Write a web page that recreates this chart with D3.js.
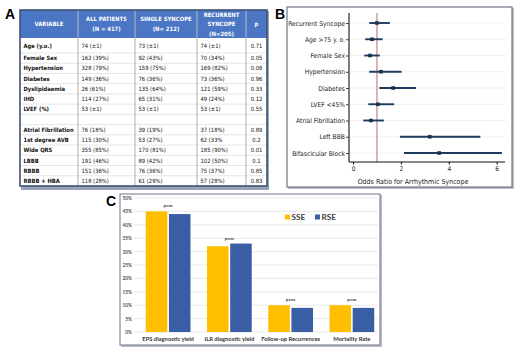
<!DOCTYPE html>
<html lang="en">
  <head>
    <meta charset="utf-8">
    <title>Syncope figure</title>
    <script src="https://d3js.org/d3.v7.min.js"></script>
    <style>
      body { margin: 0; background: #fff; }
      svg { display: block; }
      .narrow { font-family: "Liberation Sans Narrow", "DejaVu Sans Condensed", Arial, sans-serif; }
      .lato { font-family: Lato, "Open Sans", sans-serif; }
      .plabel { font-weight: bold; font-size: 14px; font-family: "Liberation Sans", Arial, sans-serif; }
    </style>
  </head>
  <body>
    <svg id="fig" width="520" height="352"></svg>
    <script>
      // ---- panel A: baseline table ----
      const headers = [["VARIABLE"], ["ALL PATIENTS", "(N = 417)"], ["SINGLE SYNCOPE", "(N= 212)"],
                       ["RECURRENT", "SYNCOPE", "(N=205)"], ["p"]];
      const variables = ["Age (y.o.)", "Female Sex", "Hypertension", "Diabetes", "Dyslipidaemia", "IHD", "LVEF (%)", "",
                         "Atrial Fibrillation", "1st degree AVB", "Wide QRS", "LBBB", "RBBB", "RBBB + HBA"];
      const allPatients = ["74 (\u00b11)", "162 (39%)", "328 (79%)", "149 (36%)", "26 (61%)", "114 (27%)", "53 (\u00b11)", "",
                           "76 (18%)", "115 (30%)", "355 (85%)", "191 (46%)", "151 (36%)", "118 (28%)"];
      const singleSyncope = ["73 (\u00b11)", "92 (43%)", "159 (75%)", "76 (36%)", "135 (64%)", "65 (31%)", "53 (\u00b11)", "",
                             "39 (19%)", "53 (27%)", "170 (81%)", "89 (42%)", "76 (36%)", "61 (29%)"];
      const recurrentSyncope = ["74 (\u00b11)", "70 (34%)", "169 (82%)", "73 (36%)", "121 (59%)", "49 (24%)", "53 (\u00b11)", "",
                                "37 (18%)", "62 (33%", "185 (90%)", "102 (50%)", "75 (37%)", "57 (28%)"];
      const pValues = ["0.71", "0.05", "0.06", "0.96", "0.33", "0.12", "0.55", "",
                       "0.89", "0.2", "0.01", "0.1", "0.85", "0.83"];

      // ---- panel B: forest plot ----
      const factors = ["Recurrent Syncope", "Age >75 y. o.", "Female Sex", "Hypertension", "Diabetes",
                       "LVEF <45%", "Atrial Fibrillation", "Left BBB", "Bifascicular Block"];
      const oddsRatio = [1.0, 0.79, 0.71, 1.17, 1.68, 1.04, 0.75, 3.21, 3.6];
      const ciLow = [0.68, 0.51, 0.47, 0.68, 1.1, 0.64, 0.43, 1.96, 2.13];
      const ciHigh = [1.54, 1.24, 1.12, 2.03, 2.63, 1.72, 1.29, 5.32, 6.22];
      const orTicks = [0, 2, 4, 6];

      // ---- panel C: grouped bars ----
      const outcomes = ["EPS diagnostic yield", "ILR diagnostic yield", "Follow-up Recurrences", "Mortality Rate"];
      const groups = ["SSE", "RSE"];
      const sseValues = [45, 32, 10, 10];
      const rseValues = [44, 33, 9, 9];
      const pText = ["p=ns", "p=ns", "p=ns", "p=ns"];
      const pctTicks = [0, 5, 10, 15, 20, 25, 30, 35, 40, 45, 50];

      const svg = d3.select('#fig');

      // ================= A =================
      svg.append('text').attr('class', 'plabel').attr('x', 5).attr('y', 19).text('A');
      const A = svg.append('g');
      const colX = d3.scaleOrdinal().domain(d3.range(6)).range([20, 78, 135, 197, 246, 267]);
      const rowY = d3.scaleLinear().domain([0, 1, variables.length]).range([38, 53, 186]);
      const tTop = 10, tBottom = rowY(variables.length);

      A.append('rect').attr('x', 21).attr('y', tTop + 1).attr('width', 248).attr('height', tBottom - tTop + 3)
        .attr('fill', '#9aa3b5');
      A.append('rect').attr('x', colX(0)).attr('y', tTop).attr('width', colX(5) - colX(0)).attr('height', tBottom - tTop)
        .attr('fill', '#fff');
      A.append('rect').attr('x', colX(0)).attr('y', tTop).attr('width', colX(5) - colX(0)).attr('height', 28)
        .attr('fill', '#4a76c4');

      // row separators
      A.selectAll('line.row').data(d3.range(1, variables.length))
        .join('line').attr('class', 'row')
        .attr('x1', colX(0)).attr('x2', colX(5))
        .attr('y1', d => rowY(d)).attr('y2', d => rowY(d))
        .attr('stroke', '#d4d4d4').attr('stroke-width', 0.6);
      // column separators
      A.selectAll('line.col').data(d3.range(1, 5))
        .join('line').attr('class', 'col')
        .attr('x1', d => colX(d)).attr('x2', d => colX(d))
        .attr('y1', tTop).attr('y2', tBottom)
        .attr('stroke', '#8c8c8c').attr('stroke-width', 0.7);
      A.selectAll('line.hcol').data(d3.range(1, 5))
        .join('line').attr('class', 'hcol')
        .attr('x1', d => colX(d)).attr('x2', d => colX(d))
        .attr('y1', tTop).attr('y2', 38)
        .attr('stroke', '#a9c0e6').attr('stroke-width', 0.8);
      A.append('rect').attr('x', colX(0)).attr('y', tTop).attr('width', colX(5) - colX(0)).attr('height', tBottom - tTop)
        .attr('fill', 'none').attr('stroke', '#3f5376').attr('stroke-width', 1.6);

      // header text
      headers.forEach(function(lines, c) {
        const cx = (colX(c) + colX(c + 1)) / 2;
        const y0 = 24 - (lines.length - 1) * 4.7 + 2.1;
        A.append('text').attr('class', 'narrow')
          .attr('text-anchor', 'middle').attr('font-size', 5.9).attr('font-weight', 'bold').attr('fill', '#fff')
          .selectAll('tspan').data(lines).join('tspan')
          .attr('x', cx).attr('y', (d, i) => y0 + i * 9.4)
          .text(d => d);
      });

      const columns = [variables, allPatients, singleSyncope, recurrentSyncope, pValues];
      columns.forEach(function(col, c) {
        A.selectAll('text.c' + c).data(col).join('text')
          .attr('class', 'narrow c' + c)
          .attr('x', c === 4 ? (colX(4) + colX(5)) / 2 : colX(c) + 3.5)
          .attr('text-anchor', c === 4 ? 'middle' : 'start')
          .attr('y', (d, i) => (rowY(i) + rowY(i + 1)) / 2 + 2.1)
          .attr('font-size', 5.8)
          .attr('font-weight', c === 0 ? 'bold' : 'normal')
          .attr('fill', '#111')
          .text(d => d);
      });

      // ================= B =================
      svg.append('text').attr('class', 'plabel').attr('x', 275).attr('y', 19).text('B');
      const B = svg.append('g');
      B.append('rect').attr('x', 288).attr('y', 8).attr('width', 226).attr('height', 181).attr('fill', '#b9bcc6');
      B.append('rect').attr('x', 287).attr('y', 7).attr('width', 225).attr('height', 180)
        .attr('fill', '#fff').attr('stroke', '#6f7688').attr('stroke-width', 1.2);

      const xOR = d3.scaleLinear().domain([0, 6.35]).range([353, 505]);
      const yF = d3.scalePoint().domain(factors).range([23, 153]);

      B.selectAll('line.grid').data(factors).join('line').attr('class', 'grid')
        .attr('x1', 350).attr('x2', 506)
        .attr('y1', d => yF(d)).attr('y2', d => yF(d))
        .attr('stroke', '#ececec').attr('stroke-width', 0.8);

      B.append('line')
        .attr('x1', xOR(1)).attr('x2', xOR(1)).attr('y1', 13).attr('y2', 162)
        .attr('stroke', '#c48e9c').attr('stroke-width', 1.3);

      const yAxis = B.append('g').attr('transform', 'translate(349,0)')
        .call(d3.axisLeft(yF).tickSize(3).tickPadding(1));
      yAxis.select('.domain').attr('d', 'M0,13V162').attr('stroke', '#111').attr('stroke-width', 1.1);
      yAxis.selectAll('.tick line').attr('stroke', '#444');
      yAxis.selectAll('text').attr('class', 'narrow').attr('font-size', 6.7).attr('fill', '#222');

      const xAxis = B.append('g').attr('transform', 'translate(0,162)')
        .call(d3.axisBottom(xOR).tickValues(orTicks).tickFormat(d3.format('d')).tickSize(2.5).tickPadding(2));
      xAxis.select('.domain').attr('d', 'M349,0H505').attr('stroke', '#111').attr('stroke-width', 1.1);
      xAxis.selectAll('text').attr('class', 'narrow').attr('font-size', 6.5).attr('fill', '#222');

      B.append('text').attr('class', 'narrow')
        .attr('x', 413).attr('y', 183.5).attr('text-anchor', 'middle')
        .attr('font-size', 7).attr('fill', '#222')
        .text('Odds Ratio for Arrhythmic Syncope');

      B.selectAll('line.ci').data(factors).join('line').attr('class', 'ci')
        .attr('x1', (d, i) => xOR(ciLow[i])).attr('x2', (d, i) => xOR(ciHigh[i]))
        .attr('y1', d => yF(d)).attr('y2', d => yF(d))
        .attr('stroke', '#1d3a5f').attr('stroke-width', 1.9);
      B.selectAll('rect.pt').data(factors).join('rect').attr('class', 'pt')
        .attr('x', (d, i) => xOR(oddsRatio[i]) - 1.8).attr('y', d => yF(d) - 1.8)
        .attr('width', 3.6).attr('height', 3.6)
        .attr('fill', '#1b324f');

      // ================= C =================
      svg.append('text').attr('class', 'plabel').attr('x', 106).attr('y', 206).text('C');
      const C = svg.append('g');
      C.append('rect').attr('x', 121).attr('y', 195).attr('width', 261).attr('height', 152).attr('fill', '#b9bcc6');
      C.append('rect').attr('x', 120).attr('y', 194).attr('width', 260).attr('height', 151)
        .attr('fill', '#fff').attr('stroke', '#7a8193').attr('stroke-width', 1.1);

      const yP = d3.scaleLinear().domain([0, 50]).range([332, 198]);
      const x0 = d3.scaleBand().domain(outcomes).range([137.5, 382.5]).paddingInner(0.27).paddingOuter(0.135);
      const x1 = d3.scaleBand().domain(groups).range([0, x0.bandwidth()]).paddingInner(0.07);
      const colour = d3.scaleOrdinal().domain(groups).range(['#ffbf00', '#3a5ea4']);

      C.selectAll('line.grid').data(pctTicks).join('line').attr('class', 'grid')
        .attr('x1', 134).attr('x2', 378)
        .attr('y1', d => yP(d)).attr('y2', d => yP(d))
        .attr('stroke', '#e2e2e2').attr('stroke-width', 0.8);

      const yAxisC = C.append('g').attr('transform', 'translate(132,0)')
        .call(d3.axisLeft(yP).tickValues(pctTicks).tickFormat(d => d + '%').tickSize(0).tickPadding(0));
      yAxisC.select('.domain').remove();
      yAxisC.selectAll('text').attr('class', 'lato').attr('font-size', 4.8).attr('font-weight', 'bold').attr('fill', '#555');

      const xAxisC = C.append('g').attr('transform', 'translate(0,332)')
        .call(d3.axisBottom(x0).tickSize(0).tickPadding(5));
      xAxisC.select('.domain').remove();
      xAxisC.selectAll('text').attr('class', 'lato').attr('font-size', 5.8).attr('font-weight', 'bold').attr('fill', '#333');

      const series = outcomes.map((o, i) => ({outcome: o, values: [
        {group: 'SSE', value: sseValues[i]}, {group: 'RSE', value: rseValues[i]}]}));

      const gGroup = C.selectAll('g.grp').data(series).join('g').attr('class', 'grp')
        .attr('transform', d => 'translate(' + x0(d.outcome) + ',0)');
      gGroup.selectAll('rect').data(d => d.values).join('rect')
        .attr('x', d => x1(d.group)).attr('width', x1.bandwidth())
        .attr('y', d => yP(d.value)).attr('height', d => yP(0) - yP(d.value))
        .attr('fill', d => colour(d.group));
      gGroup.append('text').attr('class', 'lato')
        .attr('x', x0.bandwidth() / 2)
        .attr('y', (d, i) => yP(Math.max(sseValues[i], rseValues[i])) - 4)
        .attr('text-anchor', 'middle').attr('font-size', 4.2).attr('font-weight', 'bold').attr('fill', '#333')
        .text((d, i) => pText[i]);

      const legend = C.selectAll('g.leg').data(groups).join('g').attr('class', 'leg')
        .attr('transform', (d, i) => 'translate(' + (285 + i * 30) + ',214.5)');
      legend.append('rect').attr('width', 5).attr('height', 5).attr('fill', d => colour(d));
      legend.append('text').attr('class', 'lato').attr('x', 6.5).attr('y', 5.3)
        .attr('font-size', 8.2).attr('font-weight', 'bold').attr('fill', '#404040')
        .text(d => d);
    </script>
  </body>
</html>
